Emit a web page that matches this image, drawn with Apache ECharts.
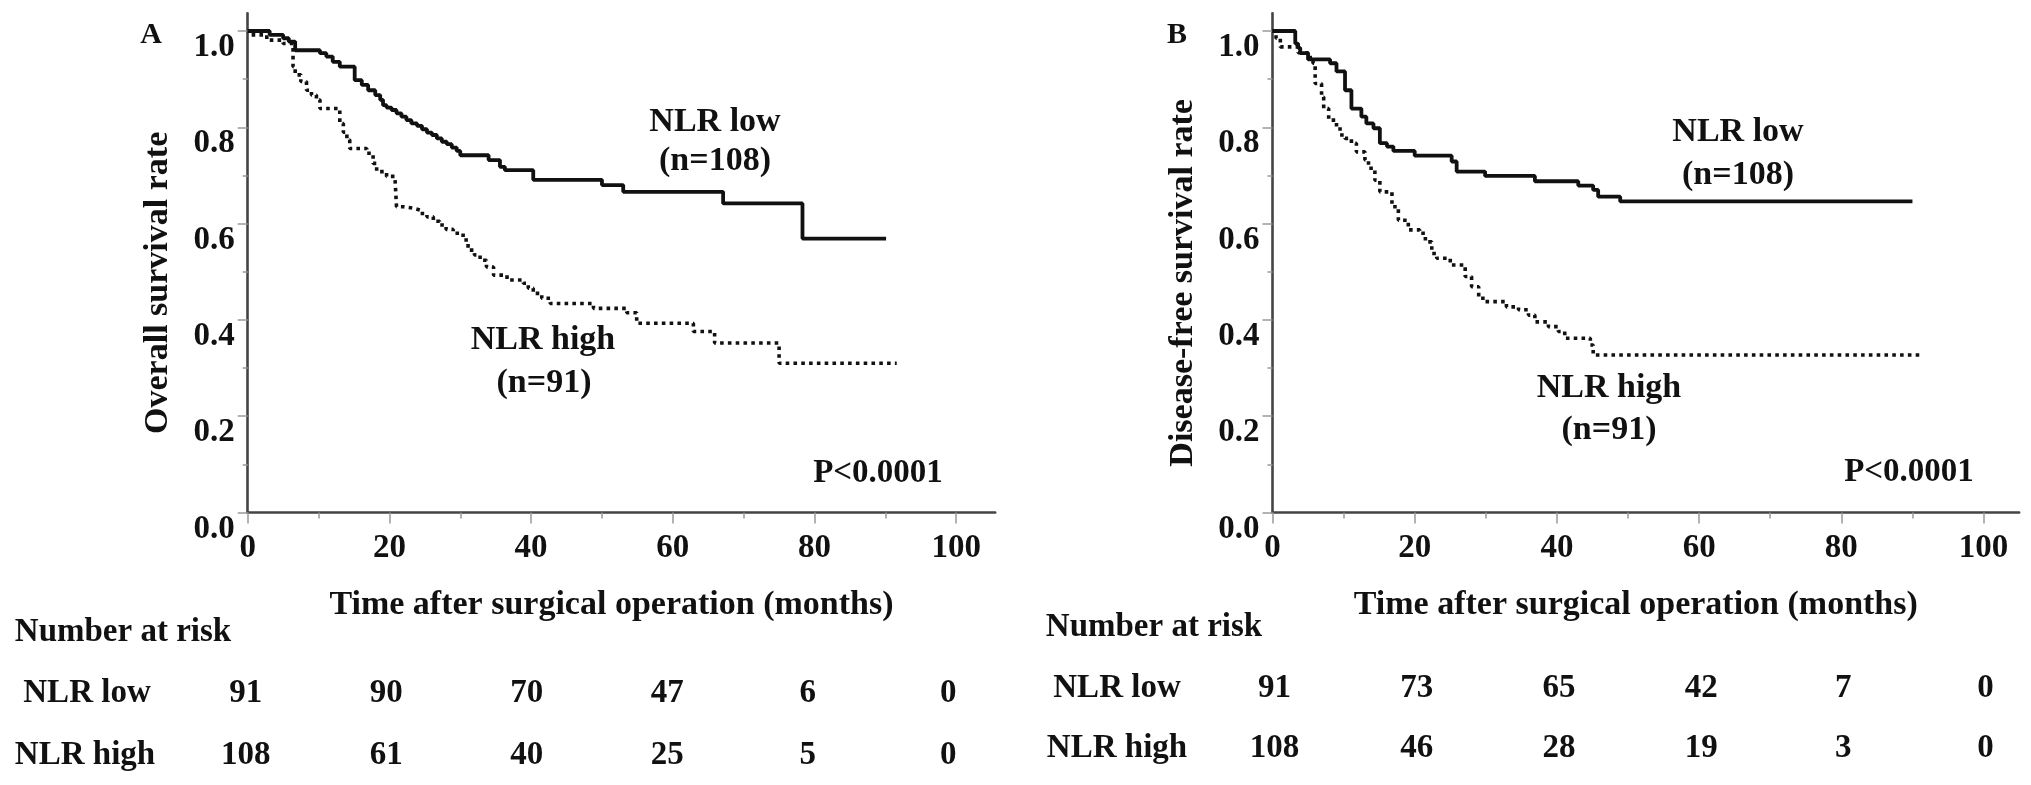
<!DOCTYPE html>
<html>
<head>
<meta charset="utf-8">
<script src="https://cdn.jsdelivr.net/npm/echarts@6/dist/echarts.min.js"></script>
<style>html,body{margin:0;padding:0;background:#fff}#main{width:2031px;height:785px}</style>
</head>
<body>
<div id="main"></div>
<script>
// Kaplan-Meier steps: month of each drop, survival after it
var osLowT = [0, 3.1, 5.0, 5.8, 6.7, 10.2, 11.1, 12.0, 13.0, 15.1, 16.1, 17.0, 18.0, 18.7, 19.1, 19.6, 20.3, 21.0, 21.7, 22.4, 23.1, 23.9, 24.6, 25.3, 26.0, 26.7, 27.4, 28.1, 28.8, 29.5, 30.0, 34.0, 35.6, 36.3, 40.3, 50.0, 53.0, 67.1, 78.3, 90.1];
var osLowS = [1.0, 0.992, 0.985, 0.978, 0.960, 0.954, 0.947, 0.936, 0.926, 0.898, 0.888, 0.877, 0.867, 0.857, 0.846, 0.841, 0.836, 0.829, 0.822, 0.815, 0.808, 0.803, 0.796, 0.789, 0.784, 0.777, 0.770, 0.765, 0.758, 0.751, 0.742, 0.732, 0.718, 0.711, 0.691, 0.680, 0.666, 0.642, 0.569, 0.569];
var osHighT = [0, 0.5, 2.7, 5.0, 6.4, 6.7, 7.5, 8.3, 9.0, 9.7, 10.2, 13.0, 13.5, 14.0, 14.4, 16.8, 17.7, 18.2, 19.6, 20.8, 21.0, 22.0, 23.4, 24.4, 25.3, 26.2, 27.1, 28.0, 29.0, 30.4, 31.1, 32.0, 32.8, 33.7, 34.7, 36.6, 38.9, 39.6, 40.3, 41.5, 42.7, 48.8, 53.5, 54.9, 62.9, 65.9, 75.0, 91.6];
var osHighS = [1.0, 0.992, 0.981, 0.974, 0.926, 0.909, 0.895, 0.877, 0.867, 0.857, 0.839, 0.808, 0.790, 0.774, 0.756, 0.746, 0.725, 0.708, 0.698, 0.691, 0.635, 0.632, 0.628, 0.621, 0.614, 0.605, 0.597, 0.588, 0.580, 0.566, 0.545, 0.535, 0.524, 0.510, 0.493, 0.483, 0.476, 0.466, 0.455, 0.445, 0.434, 0.424, 0.415, 0.393, 0.376, 0.352, 0.310, 0.310];
var dfsLowT = [0, 3.2, 3.6, 3.9, 5.0, 8.1, 9.0, 10.2, 11.1, 12.5, 13.2, 14.2, 15.1, 16.1, 17.0, 20.0, 25.2, 25.9, 29.9, 36.9, 43.0, 45.1, 45.8, 48.9, 90.0];
var dfsLowS = [1.0, 0.974, 0.965, 0.954, 0.941, 0.933, 0.916, 0.877, 0.839, 0.822, 0.808, 0.798, 0.767, 0.760, 0.751, 0.741, 0.729, 0.708, 0.699, 0.688, 0.679, 0.670, 0.656, 0.646, 0.646];
var dfsHighT = [0, 0.5, 1.1, 3.6, 5.0, 5.7, 6.0, 6.9, 7.2, 7.9, 9.0, 9.5, 10.2, 11.1, 11.8, 13.0, 13.5, 14.4, 15.1, 16.8, 17.7, 19.1, 20.7, 21.5, 22.4, 23.1, 25.0, 27.1, 28.0, 29.0, 29.9, 32.9, 34.6, 36.0, 36.9, 38.8, 40.2, 41.1, 44.7, 45.1, 91.0];
var dfsHighS = [1.0, 0.985, 0.967, 0.955, 0.945, 0.933, 0.891, 0.863, 0.839, 0.815, 0.801, 0.784, 0.777, 0.767, 0.749, 0.732, 0.715, 0.690, 0.666, 0.635, 0.607, 0.587, 0.580, 0.562, 0.538, 0.528, 0.514, 0.490, 0.469, 0.445, 0.438, 0.427, 0.421, 0.410, 0.396, 0.386, 0.376, 0.362, 0.348, 0.327, 0.327];

// number at risk table
var riskMonths = [0, 20, 40, 60, 80, 100];
var osRiskLow = [91, 90, 70, 47, 6, 0], osRiskHigh = [108, 61, 40, 25, 5, 0];
var dfsRiskLow = [91, 73, 65, 42, 7, 0], dfsRiskHigh = [108, 46, 28, 19, 3, 0];

// ticks
var xLabels = [0, 20, 40, 60, 80, 100], xMinor = [10, 30, 50, 70, 90];
var yLabels = [0, 0.2, 0.4, 0.6, 0.8, 1.0], yMinor = [0.1, 0.3, 0.5, 0.7, 0.9];

var FONT = '"Liberation Serif", "Times New Roman", serif', INK = '#111';
function zip(t, s) { return t.map(function(v, i) { return [v, s[i]] }) }
function bold(size) { return 'bold ' + size + 'px ' + FONT }

var chart = echarts.init(document.getElementById('main'));

function axes(g, maxX, yName) {
	var txt = {fontFamily: FONT, fontWeight: 'bold', color: INK};
	return {
		x: [
			{gridIndex: g, type: 'value', min: 0, max: maxX, position: 'bottom',
				axisLine: {onZero: false, lineStyle: {color: '#444', width: 2.6}},
				axisTick: {customValues: xLabels, length: 11, lineStyle: {color: '#999', width: 1.5}},
				axisLabel: Object.assign({customValues: xLabels, margin: 19, fontSize: 33}, txt),
				splitLine: {show: false},
				name: 'Time after surgical operation (months)', nameLocation: 'middle', nameGap: 76,
				nameTextStyle: Object.assign({fontSize: 34, padding: [0, 20, 0, 0]}, txt)},
			{gridIndex: g, type: 'value', min: 0, max: maxX, position: 'bottom',
				axisLine: {show: false}, axisLabel: {show: false}, splitLine: {show: false},
				axisTick: {customValues: xMinor, length: 6, lineStyle: {color: '#999', width: 1.5}}}
		],
		y: [
			{gridIndex: g, type: 'value', min: 0, max: 1.037, position: 'left',
				axisLine: {onZero: false, lineStyle: {color: '#444', width: 2.6}},
				axisTick: {customValues: yLabels, length: 10, lineStyle: {color: '#999', width: 1.5}},
				axisLabel: Object.assign({customValues: yLabels, margin: 13, fontSize: 33, verticalAlign: 'top',
					formatter: function(v) { return v.toFixed(1) }}, txt),
				splitLine: {show: false},
				name: yName, nameLocation: 'middle', nameGap: 72,
				nameTextStyle: Object.assign({fontSize: 34, padding: [0, 40, 0, 0]}, txt)},
			{gridIndex: g, type: 'value', min: 0, max: 1.037, position: 'left',
				axisLine: {show: false}, axisLabel: {show: false}, splitLine: {show: false},
				axisTick: {customValues: yMinor, length: 5, lineStyle: {color: '#999', width: 1.5}}}
		]
	}
}
var a = axes(0, 105.5, 'Overall survival rate'), b = axes(1, 105, 'Disease-free survival rate');

function curve(name, data, xi, yi, dotted) {
	return {name: name, type: 'line', step: 'end', xAxisIndex: xi, yAxisIndex: yi, data: data,
		showSymbol: false, silent: true, animation: false,
		lineStyle: dotted ? {color: INK, width: 3.6, type: [3.6, 4.2], cap: 'butt'} : {color: INK, width: 3.8}}
}

chart.setOption({
	backgroundColor: '#fff', animation: false,
	grid: [
		{left: 247.7, top: 13.2, width: 747.5, height: 499.3},
		{left: 1272.5, top: 13.2, width: 746.6, height: 499.3}
	],
	xAxis: a.x.concat(b.x), yAxis: a.y.concat(b.y),
	series: [
		curve('NLR low', zip(osLowT, osLowS), 0, 0, false),
		curve('NLR high', zip(osHighT, osHighS), 0, 0, true),
		curve('NLR low', zip(dfsLowT, dfsLowS), 2, 2, false),
		curve('NLR high', zip(dfsHighT, dfsHighS), 2, 2, true)
	]
});

function text(x, y, str, size, align) {
	return {type: 'text', x: x, y: y, silent: true,
		style: {text: str, font: bold(size), fill: INK, align: align || 'center', verticalAlign: 'middle',
			textAlign: align || 'center', textVerticalAlign: 'middle'}}
}

var g = [
	text(151, 35, 'A', 30), text(1177, 35, 'B', 30),
	text(715, 122, 'NLR low', 34), text(715, 161, '(n=108)', 34),
	text(543, 340, 'NLR high', 34), text(544, 383, '(n=91)', 34),
	text(878, 473, 'P<0.0001', 33),
	text(1738, 132, 'NLR low', 34), text(1738, 175, '(n=108)', 34),
	text(1609, 388, 'NLR high', 34), text(1609, 430, '(n=91)', 34),
	text(1909, 472, 'P<0.0001', 33),
	text(123, 632, 'Number at risk', 33), text(87, 693, 'NLR low', 33), text(85, 755, 'NLR high', 33),
	text(1154, 627, 'Number at risk', 33), text(1117, 688, 'NLR low', 33), text(1117, 748, 'NLR high', 33)
];
riskMonths.forEach(function(m, i) {
	var xa = chart.convertToPixel({xAxisIndex: 0}, m), xb = chart.convertToPixel({xAxisIndex: 2}, m);
	g.push(text(xa - 2 - m * 0.06, 693, String(osRiskLow[i]), 33), text(xa - 2 - m * 0.06, 755, String(osRiskHigh[i]), 33));
	g.push(text(xb + 2, 688, String(dfsRiskLow[i]), 33), text(xb + 2, 748, String(dfsRiskHigh[i]), 33));
});
chart.setOption({graphic: g});
</script>
</body>
</html>
